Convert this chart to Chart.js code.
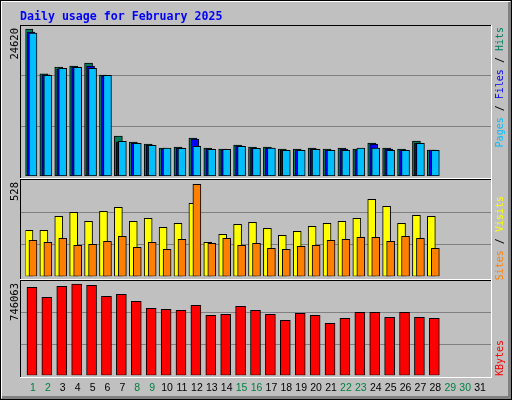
<!DOCTYPE html>
<html>
<head>
<meta charset="utf-8">
<script src="https://cdn.jsdelivr.net/npm/chart.js@4/dist/chart.umd.min.js"></script>
<style>
  body { margin: 0; background: #c0c0c0; }
  #wrap { position: relative; width: 512px; height: 400px; }
  canvas { position: absolute; left: 0; top: 0; }
</style>
</head>
<body>
<div id="wrap">
  <canvas id="c1" width="512" height="400"></canvas>
  <canvas id="c2" width="512" height="400"></canvas>
  <canvas id="c3" width="512" height="400"></canvas>
</div>
<script>
const days = [];
for (let d = 1; d <= 31; d++) days.push(String(d));
const weekendDays = [1, 2, 8, 9, 15, 16, 22, 23, 29, 30];

const hits = [24620, 17100, 18250, 18420, 18930, 16900, 6700, 5700, 5360, 4690, 4860, 6360, 4690, 4520, 5190,
  4860, 4860, 4520, 4520, 4690, 4520, 4690, 4520, 5530, 4690, 4520, 5860, 4360];
const files = [24100, 16950, 17900, 18250, 18420, 16750, 5700, 5530, 5190, 4520, 4690, 6200, 4520, 4360, 5020,
  4690, 4690, 4360, 4360, 4520, 4360, 4520, 4360, 5360, 4520, 4360, 5530, 4360];
const pages = [23950, 16860, 18030, 18200, 18030, 16860, 5800, 5470, 5140, 4690, 4640, 4970, 4470, 4470, 4970,
  4640, 4690, 4300, 4300, 4470, 4300, 4300, 4690, 4690, 4300, 4300, 5470, 4300];
const visits = [264, 264, 344, 367, 316, 373, 396, 316, 333, 281, 304, 419, 195, 241, 298, 310, 275, 235, 258, 287,
  304, 316, 333, 442, 402, 304, 350, 344];
const sites = [207, 195, 218, 178, 184, 201, 230, 166, 195, 155, 212, 528, 189, 218, 178, 189, 161, 155, 172, 178,
  207, 212, 224, 224, 201, 230, 218, 161];
const kbytes = [719000, 637000, 727000, 746063, 735000, 646000, 662000, 605000, 548000, 539000, 531000, 572000,
  490000, 498000, 564000, 531000, 498000, 449000, 507000, 490000, 425000, 466000, 515000, 515000, 474000, 515000,
  474000, 466000];

const maxLabels = ['24620', '528', '746063'];
const axisMax = [25290, 551, 776000];

const panels = [
  { top: 25, bottom: 178, areaTop: 25, areaBottom: 176 },
  { top: 179, bottom: 279, areaTop: 180.3, areaBottom: 276.3 },
  { top: 280, bottom: 377, areaTop: 280.3, areaBottom: 375.3 }
];
const frameLeft = 20, frameRight = 491;
const mono = '"DejaVu Sans Mono", monospace';

// shift each dataset sideways a little so the bars overlap like the original
const shiftPlugin = {
  id: 'shift',
  afterDatasetsUpdate(chart) {
    chart.data.datasets.forEach((ds, i) => {
      const meta = chart.getDatasetMeta(i);
      meta.data.forEach(el => { el.x += ds.dx || 0; });
    });
  }
};

function vertText(ctx, parts, x, top, font) {
  ctx.save();
  ctx.font = font;
  let total = 0;
  parts.forEach(p => total += ctx.measureText(p[0]).width);
  ctx.translate(x, top + total);
  ctx.rotate(-Math.PI / 2);
  ctx.textBaseline = 'middle';
  ctx.textAlign = 'left';
  let pos = 0;
  parts.forEach(p => {
    ctx.fillStyle = p[1];
    ctx.fillText(p[0], pos, 0);
    pos += ctx.measureText(p[0]).width;
  });
  ctx.restore();
}

function panelPlugin(idx, rightParts, rightTop) {
  return {
    id: 'panel' + idx,
    beforeDatasetsDraw(chart) {
      const ctx = chart.ctx;
      const p = panels[idx];
      const y = chart.scales.y;
      ctx.save();
      if (idx === 0) {
        // page background and 3D frame
        ctx.fillStyle = '#c0c0c0';
        ctx.fillRect(0, 0, 512, 400);
        ctx.fillStyle = '#000';
        ctx.fillRect(0, 0, 512, 1);
        ctx.fillRect(0, 0, 1, 400);
        ctx.fillRect(0, 399, 512, 1);
        ctx.fillRect(511, 0, 1, 400);
        ctx.fillStyle = '#fff';
        ctx.fillRect(1, 1, 509, 1);
        ctx.fillRect(1, 1, 1, 397);
        ctx.fillStyle = '#808080';
        ctx.fillRect(508, 2, 3, 397);
        ctx.fillRect(2, 396, 509, 3);
        ctx.fillStyle = '#0000ff';
        ctx.font = 'bold 11.6px ' + mono;
        ctx.textBaseline = 'alphabetic';
        ctx.fillText('Daily usage for February 2025', 20, 20);
      }
      ctx.fillStyle = '#000';
      ctx.fillRect(frameLeft, p.top, frameRight - frameLeft, 1);
      ctx.fillRect(frameLeft, p.top, 1, p.bottom - p.top);
      ctx.fillStyle = '#fff';
      ctx.fillRect(frameLeft, p.bottom, frameRight - frameLeft + 1, 1);
      ctx.fillRect(frameRight, p.top, 1, p.bottom - p.top);
      // grid lines at thirds
      ctx.strokeStyle = '#808080';
      ctx.lineWidth = 1;
      [1, 2].forEach(k => {
        const gy = Math.round(y.getPixelForValue(axisMax[idx] * k / 3)) + 0.5;
        ctx.beginPath();
        ctx.moveTo(frameLeft + 1, gy);
        ctx.lineTo(frameRight, gy);
        ctx.stroke();
      });
      vertText(ctx, [[maxLabels[idx], '#000']], 15, p.top + 3, '10.5px ' + mono);
      vertText(ctx, rightParts, 500, rightTop, '10px ' + mono);
      if (idx === 2) {
        const x = chart.scales.x;
        ctx.font = '10.5px "Liberation Sans", sans-serif';
        ctx.textAlign = 'center';
        ctx.textBaseline = 'middle';
        days.forEach((d, i) => {
          ctx.fillStyle = weekendDays.includes(i + 1) ? '#008040' : '#000';
          ctx.fillText(d, x.getPixelForValue(i), 388);
        });
      }
      ctx.restore();
    }
  };
}

function makeChart(id, idx, datasets, rightParts, rightTop) {
  const p = panels[idx];
  return new Chart(document.getElementById(id), {
    type: 'bar',
    data: { labels: days, datasets: datasets },
    options: {
      responsive: false,
      animation: false,
      events: [],
      layout: { padding: { left: 25.5, right: 24.5, top: p.areaTop, bottom: 400 - p.areaBottom } },
      plugins: { legend: { display: false }, tooltip: { enabled: false } },
      scales: {
        x: { display: false, grid: { display: false } },
        y: { display: false, min: 0, max: axisMax[idx], grid: { display: false } }
      }
    },
    plugins: [shiftPlugin, panelPlugin(idx, rightParts, rightTop)]
  });
}

function bars(data, color, width, dx, order) {
  return { data: data, backgroundColor: color, borderColor: '#000', borderWidth: 1,
    borderSkipped: false, barThickness: width, grouped: false, dx: dx, order: order };
}

makeChart('c1', 0, [
  bars(hits, '#008060', 8, -4, 2),
  bars(files, '#0000ff', 8, -2, 1),
  bars(pages, '#00bfff', 8, 0, 0)
], [['Pages', '#00bfff'], [' / ', '#000'], ['Files', '#0000ff'], [' / ', '#000'], ['Hits', '#008060']], 27);

makeChart('c2', 1, [
  bars(visits, '#ffff00', 8, -4, 1),
  bars(sites, '#ff8000', 8, 0, 0)
], [['Sites', '#ff8000'], [' / ', '#000'], ['Visits', '#ffff00']], 196);

makeChart('c3', 2, [
  bars(kbytes, '#ff0000', 10, -1, 0)
], [['KBytes', '#ff0000']], 340);
</script>
</body>
</html>
